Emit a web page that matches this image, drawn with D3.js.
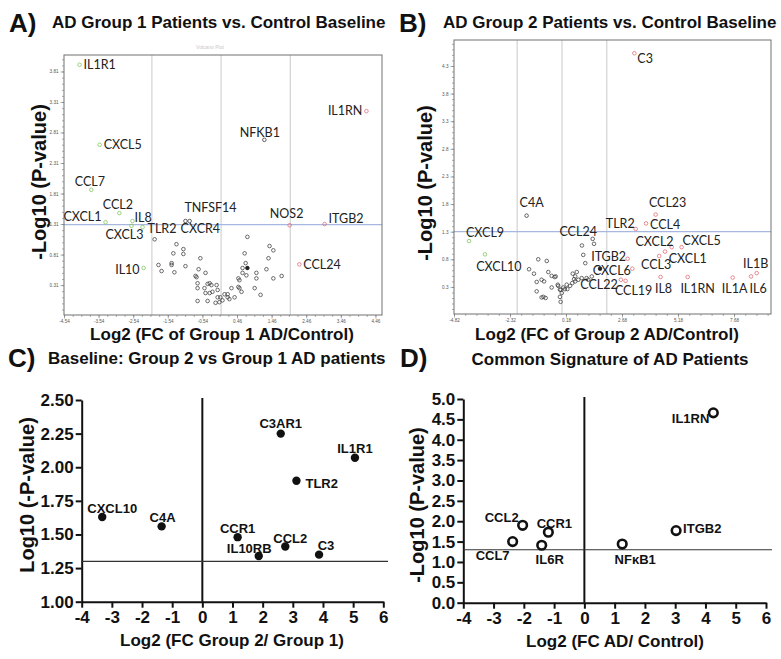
<!DOCTYPE html>
<html><head><meta charset="utf-8">
<script src="https://cdn.jsdelivr.net/npm/d3@7"></script>
<style>body{margin:0;background:#fff}svg{display:block}</style>
</head><body>
<svg id="fig" width="781" height="659"></svg>
<script>
// ---------------- Panel A data ----------------
const aGenes   = ["IL1R1","IL1RN","NFKB1","CXCL5","CCL7","CCL2","CXCL1","IL8","CXCL3","TLR2","TNFSF14","CXCR4","NOS2","ITGB2","CCL24","IL10"];
const aLog2FC  = [-4.09, 4.20, 1.25, -3.51, -3.75, -2.94, -3.34, -2.56, -2.59, -2.27, -1.03, -0.91, 1.98, 2.99, 2.26, -2.24];
const aNegLogP = [3.92, 3.16, 2.69, 2.61, 1.87, 1.49, 1.34, 1.36, 1.28, 1.26, 1.36, 1.36, 1.29, 1.31, 0.65, 0.59];
const aGroup   = ["down","up","ns","down","down","down","down","down","down","down","ns","ns","up","up","up","down"];
const aOtherFC = [-1.92,-1.29,-1.38,-1.09,-1.09,-0.60,0.76,1.40,1.51,0.68,1.37,-1.81,-1.72,-1.43,-1.43,-1.35,-1.03,-0.65,-0.45,-0.74,-0.71,0.71,0.62,0.76,0.62,0.73,0.50,0.53,1.02,1.02,1.31,1.51,1.75,-0.68,-0.39,-0.33,-0.28,-0.13,-0.68,-0.48,-0.45,-0.33,-0.25,-0.10,-0.10,-0.02,-0.16,-0.05,0.04,0.19,0.10,0.19,0.24,0.30,0.39,0.59,0.97,1.14,-0.68,-0.39,0.50,0.53];
const aOtherP  = [1.06,0.98,0.83,0.90,0.82,0.75,1.10,0.95,0.88,0.83,0.75,0.64,0.54,0.67,0.64,0.52,0.62,0.57,0.51,0.46,0.44,0.67,0.59,0.59,0.51,0.47,0.42,0.39,0.51,0.42,0.57,0.42,0.46,0.34,0.33,0.34,0.31,0.31,0.26,0.26,0.18,0.18,0.20,0.23,0.11,0.11,0.02,0.03,0.06,0.11,0.16,0.16,0.08,0.26,0.11,0.20,0.26,0.15,0.05,0.05,0.28,0.26];
const aFilledFC = [0.76];
const aFilledP  = [0.59];
const aXTicks = [-4.54,-3.54,-2.54,-1.54,-0.54,0.46,1.46,2.46,3.46,4.46];
const aXTickLabels = ["-4.54","-3.54","-2.54","-1.54","-0.54","0.46","1.46","2.46","3.46","4.46"];
const aYTicks = [0.31,0.81,1.31,1.81,2.31,2.81,3.31,3.81];
const aYTickLabels = ["0.31","0.81","1.31","1.81","2.31","2.81","3.31","3.81"];

// ---------------- Panel B data ----------------
const bGenes   = ["C3","C4A","CXCL9","CXCL10","CCL24","TLR2","CCL4","CCL23","CXCL2","CXCL5","CXCL1","CCL3","ITGB2","CXCL6","CCL22","CCL19","IL8","IL1RN","IL1A","IL6","IL1B"];
const bLog2FC  = [3.23,-1.58,-4.15,-3.44,1.37,3.29,3.75,4.18,4.60,5.34,4.90,4.34,2.93,3.14,0.73,2.84,4.40,5.61,7.62,8.44,8.69];
const bNegLogP = [4.53,1.59,1.13,0.89,1.17,1.35,1.45,1.61,0.94,1.02,1.02,0.86,0.81,0.63,0.43,0.41,0.48,0.48,0.47,0.49,0.55];
const bGroup   = ["up","ns","down","down","ns","up","up","up","up","up","up","up","up","up","ns","up","up","up","up","up","up"];
const bOtherFC = [1.43,0.89,0.95,1.04,-1.06,-0.68,-1.47,-1.25,-0.61,-0.46,-0.33,0.48,0.66,0.59,-1.13,-0.91,-0.80,-0.46,-0.17,0.06,0.21,0.46,0.59,0.88,1.10,0.24,-0.09,-1.13,-0.83,-0.91,-0.73,-0.19,-0.06,-0.01,-0.09,-0.06,0.13,0.36,0.54,1.17,1.33,-0.28,1.70];
const bOtherP  = [1.08,1.05,0.88,0.73,0.80,0.77,0.62,0.54,0.57,0.50,0.48,0.54,0.57,0.49,0.39,0.43,0.40,0.29,0.32,0.29,0.34,0.37,0.40,0.46,0.46,0.26,0.25,0.22,0.12,0.11,0.10,0.34,0.25,0.19,0.12,0.03,0.26,0.32,0.44,0.43,0.49,0.49,0.63];
const bUpFC = [2.63];
const bUpP  = [0.43];
const bFilledFC = [1.70];
const bFilledP  = [0.63];
const bXTicks = [-4.82,-2.32,0.18,2.68,5.18,7.68];
const bXTickLabels = ["-4.82","-2.32","0.18","2.68","5.18","7.68"];
const bYTicks = [0.3,0.8,1.3,1.8,2.3,2.8,3.3,3.8,4.3];
const bYTickLabels = ["0.3","0.8","1.3","1.8","2.3","2.8","3.3","3.8","4.3"];

// ---------------- Panel C data ----------------
const cGenes   = ["CXCL10","C4A","C3AR1","IL1R1","TLR2","CCR1","CCL2","IL10RB","C3"];
const cLog2FC  = [-3.32,-1.35,2.60,5.06,3.12,1.17,2.75,1.87,3.87];
const cLogP    = [1.63,1.56,2.25,2.07,1.90,1.48,1.41,1.34,1.35];
const cXTicks  = [-4,-3,-2,-1,0,1,2,3,4,5,6];
const cYTicks  = [1.00,1.25,1.50,1.75,2.00,2.25,2.50];

// ---------------- Panel D data ----------------
const dGenes   = ["IL1RN","ITGB2","CCL2","CCR1","CCL7","IL6R","NF\u03baB1"];
const dLog2FC  = [4.26,3.03,-2.04,-1.19,-2.37,-1.41,1.25];
const dNegLogP = [4.66,1.77,1.90,1.73,1.50,1.41,1.44];
const dXTicks  = [-4,-3,-2,-1,0,1,2,3,4,5,6];
const dYTicks  = [0.0,0.5,1.0,1.5,2.0,2.5,3.0,3.5,4.0,4.5,5.0];

// ---------------- drawing ----------------
const svg = d3.select("#fig");
svg.append("rect").attr("width",781).attr("height",659).attr("fill","#fff");
const BOLD = "'Liberation Sans', Arial, Helvetica, sans-serif";
const LBL  = "Lato, 'Liberation Sans', sans-serif";
const groupColor = {down:"#86c45f", up:"#e2707a", ns:"#3c3c3c"};

function txt(g, x, y, s, size, opts={}) {
  const t = g.append("text").attr("x",x).attr("y",y).text(s)
    .attr("font-family", opts.family || BOLD).attr("font-size", size)
    .attr("font-weight", opts.weight || "bold").attr("fill", opts.fill || "#111")
    .attr("text-anchor", opts.anchor || "start");
  if (opts.rotate) t.attr("transform", `rotate(-90,${x},${y})`);
  return t;
}

function volcano(o) {
  const g = svg.append("g");
  const x = d3.scaleLinear().domain(o.xDomain).range([o.left,o.right]);
  const y = d3.scaleLinear().domain(o.yDomain).range([o.bottom,o.top]);
  o.vLines.forEach(v => g.append("line").attr("x1",x(v)).attr("x2",x(v))
    .attr("y1",o.top).attr("y2",o.bottom).attr("stroke","#d2d2d2").attr("stroke-width",1.2));
  g.append("line").attr("x1",o.left).attr("x2",o.right).attr("y1",y(o.threshold)).attr("y2",y(o.threshold))
    .attr("stroke","#a7b7df").attr("stroke-width",1.3);
  g.append("rect").attr("x",o.left).attr("y",o.top).attr("width",o.right-o.left).attr("height",o.bottom-o.top)
    .attr("fill","none").attr("stroke","#707070").attr("stroke-width",1);
  const xa = g.append("g").attr("transform",`translate(0,${o.bottom})`)
    .call(d3.axisBottom(x).tickValues(d3.range(o.xDomain[0], o.xDomain[1]+1e-9, o.xMinor)).tickSize(2).tickFormat(""));
  const ya = g.append("g").attr("transform",`translate(${o.left},0)`)
    .call(d3.axisLeft(y).tickValues(d3.range(o.yTicks[0]-Math.floor((o.yTicks[0]-o.yDomain[0])/o.yMinor)*o.yMinor, o.yDomain[1], o.yMinor)).tickSize(2).tickFormat(""));
  const xm = g.append("g").attr("transform",`translate(0,${o.bottom})`)
    .call(d3.axisBottom(x).tickValues(o.xTicks).tickSize(3.5).tickPadding(1).tickFormat(d => o.xTickLabels[o.xTicks.indexOf(d)]));
  const ym = g.append("g").attr("transform",`translate(${o.left},0)`)
    .call(d3.axisLeft(y).tickValues(o.yTicks).tickSize(3.5).tickPadding(2).tickFormat(d => o.yTickLabels[o.yTicks.indexOf(d)]));
  [xa,ya,xm,ym].forEach(a => {
    a.select(".domain").remove();
    a.selectAll("line").attr("stroke","#777").attr("stroke-width",0.6);
    a.selectAll("text").attr("font-size",4.6).attr("font-family",BOLD).attr("fill","#555");
  });
  const others = o.otherFC.map((v,i) => ({fc:v, p:o.otherP[i]}));
  g.selectAll("circle.o").data(others).join("circle").attr("class","o")
    .attr("cx",d=>x(d.fc)).attr("cy",d=>y(d.p)).attr("r",1.8)
    .attr("fill","none").attr("stroke","#3c3c3c").attr("stroke-width",0.75);
  const filled = o.filledFC.map((v,i)=>({fc:v,p:o.filledP[i]}));
  g.selectAll("circle.f").data(filled).join("circle").attr("class","f")
    .attr("cx",d=>x(d.fc)).attr("cy",d=>y(d.p)).attr("r",2).attr("fill","#222");
  const ups = o.upFC.map((v,i)=>({fc:v,p:o.upP[i]}));
  g.selectAll("circle.u").data(ups).join("circle").attr("class","u")
    .attr("cx",d=>x(d.fc)).attr("cy",d=>y(d.p)).attr("r",1.8)
    .attr("fill","none").attr("stroke",groupColor.up).attr("stroke-width",0.8);
  const lab = o.genes.map((gn,i)=>({gene:gn, fc:o.fc[i], p:o.p[i], grp:o.group[i]}));
  g.selectAll("circle.l").data(lab).join("circle").attr("class","l")
    .attr("cx",d=>x(d.fc)).attr("cy",d=>y(d.p)).attr("r",1.8)
    .attr("fill","none").attr("stroke",d=>groupColor[d.grp]).attr("stroke-width",0.8);
  g.selectAll("text.l").data(lab).join("text").attr("class","l")
    .attr("x",d=>x(d.fc)+o.labelPos[d.gene][0]).attr("y",d=>y(d.p)+o.labelPos[d.gene][1])
    .attr("text-anchor",d=>o.labelPos[d.gene][2])
    .attr("font-family",LBL).attr("font-size",12.5).attr("fill","#222").text(d=>d.gene);
}

// Panel A
txt(svg, 9, 32, "A)", 26);
txt(svg, 52, 28, "AD Group 1 Patients vs. Control Baseline", 17);
txt(svg, 210, 49, "Volcano Plot", 5, {anchor:"middle", fill:"#c8c8c8", weight:"normal"});
volcano({
  left:64, right:382, top:55, bottom:315,
  xDomain:[-4.54,4.65], yDomain:[-0.18,4.08], xMinor:0.25, yMinor:0.1,
  vLines:[-2,0,2], threshold:1.3,
  xTicks:aXTicks, xTickLabels:aXTickLabels, yTicks:aYTicks, yTickLabels:aYTickLabels,
  otherFC:aOtherFC, otherP:aOtherP, filledFC:aFilledFC, filledP:aFilledP, upFC:[], upP:[],
  genes:aGenes, fc:aLog2FC, p:aNegLogP, group:aGroup,
  labelPos:{IL1R1:[4,4,"start"], IL1RN:[-4,4,"end"], NFKB1:[-4.5,-3,"middle"], CXCL5:[4,4,"start"],
    CCL7:[-1.5,-3.5,"middle"], CCL2:[-1.5,-4,"middle"], CXCL1:[-4,-1.5,"end"], IL8:[2,1,"start"],
    CXCL3:[-7,13,"middle"], TLR2:[5,6,"start"], TNFSF14:[25,-9,"middle"], CXCR4:[-9,12,"start"],
    NOS2:[-3,-7,"middle"], ITGB2:[4,-1,"start"], CCL24:[4,5,"start"], IL10:[-4,6,"end"]}
});
txt(svg, 46, 182, "-Log10 (P-value)", 20, {anchor:"middle", rotate:true});
txt(svg, 222, 340, "Log2 (FC of Group 1 AD/Control)", 17, {anchor:"middle"});

// Panel B
txt(svg, 399, 32, "B)", 26);
txt(svg, 443, 28, "AD Group 2 Patients vs. Control Baseline", 17);
volcano({
  left:454, right:771, top:40, bottom:314,
  xDomain:[-4.82,9.33], yDomain:[-0.19,4.77], xMinor:0.5, yMinor:0.1,
  vLines:[-2,0,2], threshold:1.3,
  xTicks:bXTicks, xTickLabels:bXTickLabels, yTicks:bYTicks, yTickLabels:bYTickLabels,
  otherFC:bOtherFC, otherP:bOtherP, filledFC:bFilledFC, filledP:bFilledP, upFC:bUpFC, upP:bUpP,
  genes:bGenes, fc:bLog2FC, p:bNegLogP, group:bGroup,
  labelPos:{C3:[3,10,"start"], C4A:[5,-8.5,"middle"], CXCL9:[16,-4,"middle"], CXCL10:[14,17,"middle"],
    CCL24:[-14.5,-2.5,"middle"], TLR2:[-1,-1,"end"], CCL4:[4,6,"start"], CCL23:[12,-8,"middle"],
    CXCL2:[-10.5,-5.5,"middle"], CXCL5:[20,-2,"middle"], CXCL1:[16,16,"middle"], CCL3:[-3,13,"middle"],
    ITGB2:[-19,2,"middle"], CXCL6:[-1.5,6.5,"end"], CCL22:[2,9,"start"], CCL19:[8,14,"middle"],
    IL8:[3,16,"middle"], IL1RN:[10,16,"middle"], IL1A:[2,15.5,"middle"], IL6:[7,16.5,"middle"], IL1B:[-1,-5.5,"middle"]}
});
txt(svg, 432, 183, "-Log10 (P-value)", 20, {anchor:"middle", rotate:true});
txt(svg, 607, 340, "Log2 (FC of Group 2 AD/Control)", 17, {anchor:"middle"});

// Prism-style panels
function prism(o) {
  const g = svg.append("g");
  const x = d3.scaleLinear().domain(o.xDomain).range([o.left,o.right]);
  const y = d3.scaleLinear().domain(o.yDomain).range([o.bottom,o.top]);
  const xa = g.append("g").attr("transform",`translate(0,${o.bottom})`)
    .call(d3.axisBottom(x).tickValues(o.xTicks).tickSize(6).tickSizeOuter(0).tickPadding(3).tickFormat(d3.format("d")));
  const ya = g.append("g").attr("transform",`translate(${o.left},0)`)
    .call(d3.axisLeft(y).tickValues(o.yTicks).tickSize(6).tickSizeOuter(0).tickPadding(2).tickFormat(d3.format(o.yFmt)));
  [xa,ya].forEach(a => {
    a.selectAll("path,line").attr("stroke","#111").attr("stroke-width",2);
    a.selectAll("text").attr("font-size",17).attr("font-family",BOLD).attr("font-weight","bold").attr("fill","#111");
  });
  xa.selectAll("text").text(d => d < 0 ? "-" + Math.abs(d) : d);
  g.append("line").attr("x1",x(0)).attr("x2",x(0)).attr("y1",o.top-2).attr("y2",o.bottom)
    .attr("stroke","#111").attr("stroke-width",2);
  g.append("line").attr("x1",o.left).attr("x2",o.lineEnd).attr("y1",y(o.threshold)).attr("y2",y(o.threshold))
    .attr("stroke","#333").attr("stroke-width",1.2);
  const pts = o.genes.map((gn,i)=>({gene:gn, fc:o.fc[i], p:o.p[i]}));
  const c = g.selectAll("circle").data(pts).join("circle")
    .attr("cx",d=>x(d.fc)).attr("cy",d=>y(d.p));
  if (o.open) c.attr("r",4.3).attr("fill","#fff").attr("stroke","#111").attr("stroke-width",2.6);
  else c.attr("r",4.2).attr("fill","#111");
  g.selectAll("text.l").data(pts).join("text").attr("class","l")
    .attr("x",d=>x(d.fc)+o.labelPos[d.gene][0]).attr("y",d=>y(d.p)+o.labelPos[d.gene][1])
    .attr("text-anchor",d=>o.labelPos[d.gene][2])
    .attr("font-family",BOLD).attr("font-weight","bold").attr("font-size",13).attr("fill","#111").text(d=>d.gene);
}

// Panel C
txt(svg, 8, 367, "C)", 26);
txt(svg, 48, 364, "Baseline: Group 2 vs Group 1 AD patients", 17);
prism({
  left:81.7, right:383.3, top:400, bottom:601.7, xDomain:[-4,6], yDomain:[1,2.5],
  xTicks:cXTicks, yTicks:cYTicks, yFmt:".2f", threshold:1.3, lineEnd:388,
  genes:cGenes, fc:cLog2FC, p:cLogP, open:false,
  labelPos:{CXCL10:[10,-4,"middle"], C4A:[1,-4,"middle"], C3AR1:[0,-6,"middle"], IL1R1:[0,-5,"middle"],
    TLR2:[9,7,"start"], CCR1:[0,-4.5,"middle"], CCL2:[5,-4,"middle"], IL10RB:[-9.5,-3,"middle"], C3:[7,-5,"middle"]}
});
txt(svg, 34, 495, "Log10 (-P-value)", 20, {anchor:"middle", rotate:true});
txt(svg, 232, 646, "Log2 (FC Group 2/ Group 1)", 17, {anchor:"middle"});

// Panel D
txt(svg, 400, 367, "D)", 26);
txt(svg, 610, 365, "Common Signature of AD Patients", 17, {anchor:"middle"});
prism({
  left:463.3, right:766, top:399, bottom:602.7, xDomain:[-4,6], yDomain:[0,5],
  xTicks:dXTicks, yTicks:dYTicks, yFmt:".1f", threshold:1.3, lineEnd:772,
  genes:dGenes, fc:dLog2FC, p:dNegLogP, open:true,
  labelPos:{"IL1RN":[-4,10,"end"], "ITGB2":[7,2.5,"start"], "CCL2":[-4,-3,"end"], "CCR1":[6,-4.5,"middle"],
    "CCL7":[-20,18.5,"middle"], "IL6R":[8,19,"middle"], "NF\u03baB1":[13,20,"middle"]}
});
txt(svg, 424, 505, "-Log10 (P-value)", 20, {anchor:"middle", rotate:true});
txt(svg, 615, 647, "Log2 (FC AD/ Control)", 17, {anchor:"middle"});
</script>
</body></html>
